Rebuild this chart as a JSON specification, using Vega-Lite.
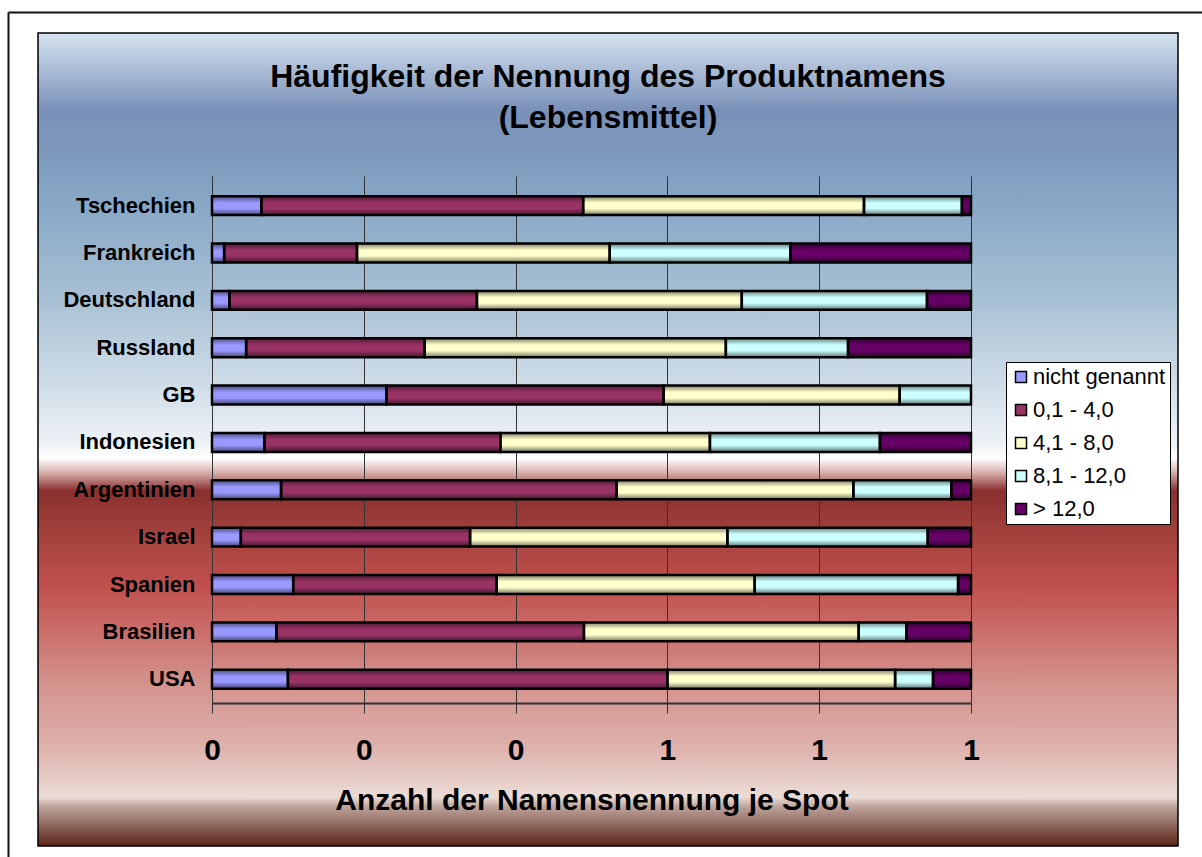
{
  "$schema": "https://vega.github.io/schema/vega-lite/v6.json",
  "width": 1140,
  "height": 813,
  "autosize": "none",
  "padding": {"left": 38, "top": 33, "right": 24, "bottom": 11},
  "background": "white",
  "title": {
    "text": ["Häufigkeit der Nennung des Produktnamens", "(Lebensmittel)"],
    "fontSize": 32, "fontWeight": "bold", "lineHeight": 41, "anchor": "middle", "frame": "group",
    "offset": -123, "color": "black", "font": "Liberation Sans"
  },
  "data": {"values": [
    {"land": "Tschechien", "kat": "nicht genannt", "nr": 1, "wert": 6.5},
    {"land": "Tschechien", "kat": "0,1 - 4,0", "nr": 2, "wert": 42.4},
    {"land": "Tschechien", "kat": "4,1 - 8,0", "nr": 3, "wert": 37.0},
    {"land": "Tschechien", "kat": "8,1 - 12,0", "nr": 4, "wert": 12.9},
    {"land": "Tschechien", "kat": "> 12,0", "nr": 5, "wert": 1.2},
    {"land": "Frankreich", "kat": "nicht genannt", "nr": 1, "wert": 1.6},
    {"land": "Frankreich", "kat": "0,1 - 4,0", "nr": 2, "wert": 17.5},
    {"land": "Frankreich", "kat": "4,1 - 8,0", "nr": 3, "wert": 33.3},
    {"land": "Frankreich", "kat": "8,1 - 12,0", "nr": 4, "wert": 23.8},
    {"land": "Frankreich", "kat": "> 12,0", "nr": 5, "wert": 23.8},
    {"land": "Deutschland", "kat": "nicht genannt", "nr": 1, "wert": 2.3},
    {"land": "Deutschland", "kat": "0,1 - 4,0", "nr": 2, "wert": 32.6},
    {"land": "Deutschland", "kat": "4,1 - 8,0", "nr": 3, "wert": 34.9},
    {"land": "Deutschland", "kat": "8,1 - 12,0", "nr": 4, "wert": 24.4},
    {"land": "Deutschland", "kat": "> 12,0", "nr": 5, "wert": 5.8},
    {"land": "Russland", "kat": "nicht genannt", "nr": 1, "wert": 4.5},
    {"land": "Russland", "kat": "0,1 - 4,0", "nr": 2, "wert": 23.5},
    {"land": "Russland", "kat": "4,1 - 8,0", "nr": 3, "wert": 39.7},
    {"land": "Russland", "kat": "8,1 - 12,0", "nr": 4, "wert": 16.1},
    {"land": "Russland", "kat": "> 12,0", "nr": 5, "wert": 16.2},
    {"land": "GB", "kat": "nicht genannt", "nr": 1, "wert": 23.0},
    {"land": "GB", "kat": "0,1 - 4,0", "nr": 2, "wert": 36.5},
    {"land": "GB", "kat": "4,1 - 8,0", "nr": 3, "wert": 31.1},
    {"land": "GB", "kat": "8,1 - 12,0", "nr": 4, "wert": 9.4},
    {"land": "Indonesien", "kat": "nicht genannt", "nr": 1, "wert": 6.9},
    {"land": "Indonesien", "kat": "0,1 - 4,0", "nr": 2, "wert": 31.1},
    {"land": "Indonesien", "kat": "4,1 - 8,0", "nr": 3, "wert": 27.6},
    {"land": "Indonesien", "kat": "8,1 - 12,0", "nr": 4, "wert": 22.4},
    {"land": "Indonesien", "kat": "> 12,0", "nr": 5, "wert": 12.0},
    {"land": "Argentinien", "kat": "nicht genannt", "nr": 1, "wert": 9.1},
    {"land": "Argentinien", "kat": "0,1 - 4,0", "nr": 2, "wert": 44.2},
    {"land": "Argentinien", "kat": "4,1 - 8,0", "nr": 3, "wert": 31.2},
    {"land": "Argentinien", "kat": "8,1 - 12,0", "nr": 4, "wert": 12.9},
    {"land": "Argentinien", "kat": "> 12,0", "nr": 5, "wert": 2.6},
    {"land": "Israel", "kat": "nicht genannt", "nr": 1, "wert": 3.8},
    {"land": "Israel", "kat": "0,1 - 4,0", "nr": 2, "wert": 30.2},
    {"land": "Israel", "kat": "4,1 - 8,0", "nr": 3, "wert": 33.9},
    {"land": "Israel", "kat": "8,1 - 12,0", "nr": 4, "wert": 26.4},
    {"land": "Israel", "kat": "> 12,0", "nr": 5, "wert": 5.7},
    {"land": "Spanien", "kat": "nicht genannt", "nr": 1, "wert": 10.7},
    {"land": "Spanien", "kat": "0,1 - 4,0", "nr": 2, "wert": 26.8},
    {"land": "Spanien", "kat": "4,1 - 8,0", "nr": 3, "wert": 34.0},
    {"land": "Spanien", "kat": "8,1 - 12,0", "nr": 4, "wert": 26.8},
    {"land": "Spanien", "kat": "> 12,0", "nr": 5, "wert": 1.7},
    {"land": "Brasilien", "kat": "nicht genannt", "nr": 1, "wert": 8.5},
    {"land": "Brasilien", "kat": "0,1 - 4,0", "nr": 2, "wert": 40.5},
    {"land": "Brasilien", "kat": "4,1 - 8,0", "nr": 3, "wert": 36.2},
    {"land": "Brasilien", "kat": "8,1 - 12,0", "nr": 4, "wert": 6.3},
    {"land": "Brasilien", "kat": "> 12,0", "nr": 5, "wert": 8.5},
    {"land": "USA", "kat": "nicht genannt", "nr": 1, "wert": 10.0},
    {"land": "USA", "kat": "0,1 - 4,0", "nr": 2, "wert": 50.0},
    {"land": "USA", "kat": "4,1 - 8,0", "nr": 3, "wert": 30.0},
    {"land": "USA", "kat": "8,1 - 12,0", "nr": 4, "wert": 5.0},
    {"land": "USA", "kat": "> 12,0", "nr": 5, "wert": 5.0}
  ]},
  "layer": [
    {
      "encoding": {
        "y": {
          "field": "land", "type": "nominal",
          "sort": ["Tschechien", "Frankreich", "Deutschland", "Russland", "GB", "Indonesien", "Argentinien", "Israel", "Spanien", "Brasilien", "USA"],
          "scale": {"range": [143, 670], "paddingInner": 0.6, "paddingOuter": 0.364, "align": 0.585},
          "axis": {
            "offset": -174, "ticks": false, "grid": false, "domainColor": "#333333", "domainWidth": 1,
            "labelFont": "Liberation Sans", "labelFontSize": 22, "labelFontWeight": "bold", "labelColor": "black",
            "labelPadding": 17, "title": null
          }
        },
        "x": {
          "field": "wert", "type": "quantitative", "stack": "normalize",
          "scale": {"domain": [0, 1], "range": [174, 933], "nice": false},
          "axis": {
            "values": [0, 0.2, 0.4, 0.6, 0.8, 1], "labelExpr": "format(datum.value, '.0f')", "offset": -143,
            "domainColor": "#333333", "domainWidth": 2, "tickColor": "#333333", "tickSize": 10, "tickWidth": 1,
            "grid": true, "gridColor": "#333333", "gridWidth": 1, "gridOpacity": 1,
            "labelFont": "Liberation Sans", "labelFontSize": 30, "labelFontWeight": "bold", "labelColor": "black",
            "labelPadding": 22, "labelFlush": false, "labelOverlap": false,
            "title": "Anzahl der Namensnennung je Spot", "titleFont": "Liberation Sans", "titleFontSize": 30,
            "titleFontWeight": "bold", "titleColor": "black", "titlePadding": 20
          }
        },
        "order": {"field": "nr", "type": "quantitative"}
      },
      "layer": [
        {
          "mark": {"type": "bar", "strokeWidth": 0},
          "encoding": {
            "color": {
              "field": "kat", "type": "nominal",
              "scale": {
                "domain": ["nicht genannt", "0,1 - 4,0", "4,1 - 8,0", "8,1 - 12,0", "> 12,0"],
                "range": ["#9999ff", "#993366", "#ffffcc", "#ccffff", "#660066"]
              },
              "legend": {
                "orient": "none", "legendX": 968, "legendY": 329, "title": null,
                "fillColor": "white", "strokeColor": "black", "padding": 4,
                "labelFont": "Liberation Sans", "labelFontSize": 22, "labelColor": "black", "labelLimit": 300,
                "symbolType": "square", "symbolSize": 121, "symbolStrokeColor": "black", "symbolStrokeWidth": 1.5,
                "symbolOpacity": 1, "rowPadding": 11, "labelOffset": 1
              }
            }
          }
        },
        {
          "mark": {
            "type": "bar", "stroke": "black", "strokeWidth": 2.5,
            "fill": {"gradient": "linear", "x1": 0, "y1": 0, "x2": 0, "y2": 1, "stops": [
              {"offset": 0, "color": "rgba(0,0,0,0.5)"},
              {"offset": 0.35, "color": "rgba(0,0,0,0)"},
              {"offset": 0.65, "color": "rgba(0,0,0,0)"},
              {"offset": 1, "color": "rgba(0,0,0,0.55)"}
            ]}
          },
          "encoding": {"detail": {"field": "kat", "type": "nominal"}}
        }
      ]
    },
    {
      "mark": {"type": "rule", "opacity": 0},
      "encoding": {
        "x": {"datum": 0, "type": "quantitative",
          "scale": {"domain": [0, 1], "range": [-30, 1164]},
          "axis": {"orient": "top", "offset": 21, "domainColor": "#111111", "domainWidth": 2, "ticks": false, "labels": false, "grid": false, "title": null}},
        "y": {"datum": 0, "type": "quantitative",
          "scale": {"domain": [0, 1], "range": [824, -21]},
          "axis": {"orient": "left", "offset": 30, "domainColor": "#111111", "domainWidth": 2, "ticks": false, "labels": false, "grid": false, "title": null}}
      }
    }
  ],
  "resolve": {"scale": {"x": "independent", "y": "independent"}, "axis": {"x": "independent", "y": "independent"}},
  "config": {
    "font": "Liberation Sans",
    "view": {
      "stroke": "black", "strokeWidth": 1.5,
      "fill": {"gradient": "linear", "x1": 0, "y1": 0, "x2": 0, "y2": 1, "stops": [
        {"offset": 0, "color": "#d6e4f0"},
        {"offset": 0.095, "color": "#7a90b8"},
        {"offset": 0.14, "color": "#7d98bc"},
        {"offset": 0.212, "color": "#88a8c6"},
        {"offset": 0.327, "color": "#a8c0d4"},
        {"offset": 0.444, "color": "#d4e0ea"},
        {"offset": 0.505, "color": "#eef2f6"},
        {"offset": 0.523, "color": "#ffffff"},
        {"offset": 0.54, "color": "#d9b3b1"},
        {"offset": 0.563, "color": "#8a302e"},
        {"offset": 0.62, "color": "#a5423e"},
        {"offset": 0.68, "color": "#c0504d"},
        {"offset": 0.735, "color": "#ca6d69"},
        {"offset": 0.795, "color": "#d3908b"},
        {"offset": 0.88, "color": "#deb2ad"},
        {"offset": 0.94, "color": "#ecdcd6"},
        {"offset": 0.952, "color": "#bca29a"},
        {"offset": 1, "color": "#5a2418"}
      ]}
    }
  }
}
